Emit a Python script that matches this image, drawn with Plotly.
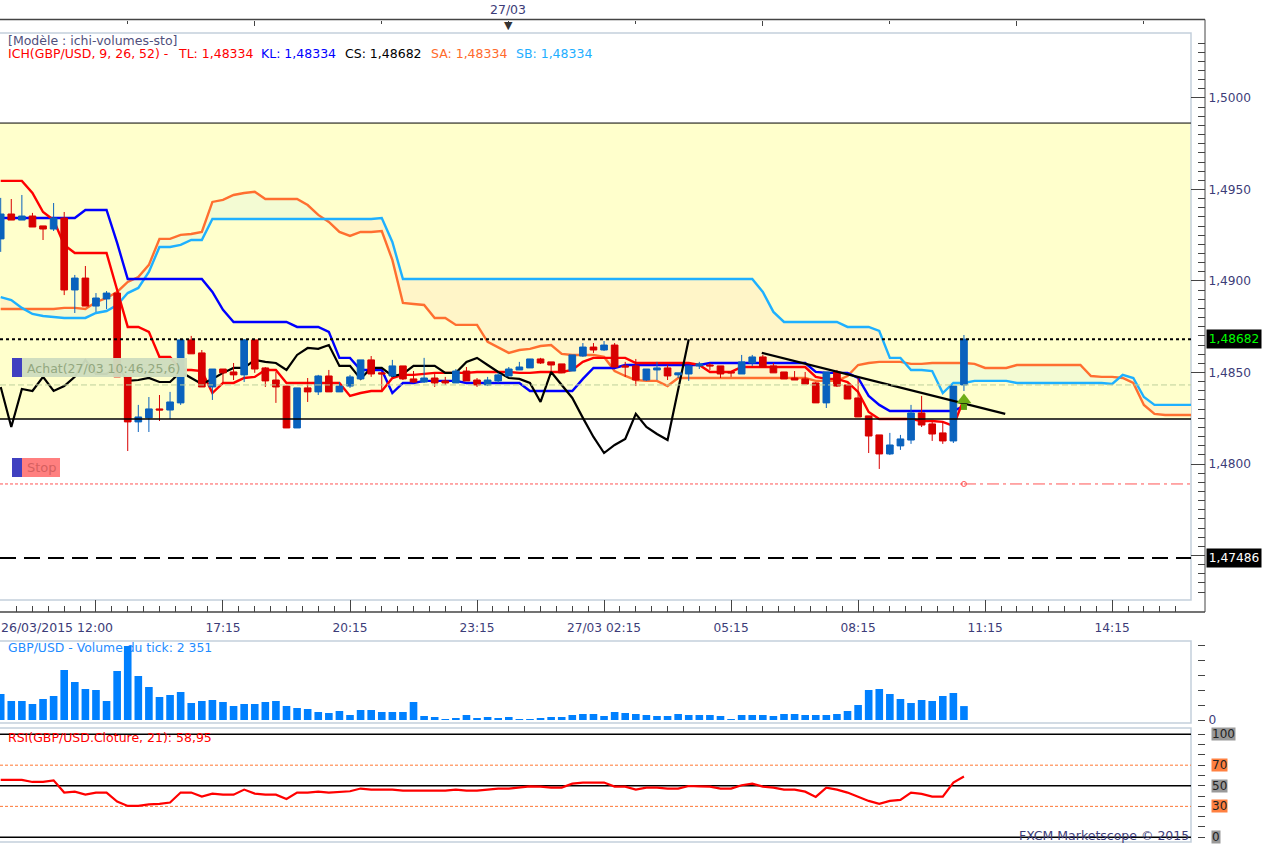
import plotly.graph_objects as go

W, H = 1263, 844

# GBP/USD 15 min bars
opens = [1.49230, 1.49366, 1.49333, 1.49355, 1.49301, 1.49284, 1.49344, 1.48951, 1.49016, 1.48863,
         1.48902, 1.48934, 1.48476, 1.48230, 1.48252, 1.48301, 1.48295, 1.48334, 1.48678, 1.48607,
         1.48421, 1.48519, 1.48503, 1.48487, 1.48678, 1.48525, 1.48459, 1.48426, 1.48197, 1.48416,
         1.48394, 1.48481, 1.48394, 1.48426, 1.48465, 1.48569, 1.48498, 1.48481, 1.48536, 1.48465,
         1.48448, 1.48470, 1.48454, 1.48443, 1.48508, 1.48459, 1.48432, 1.48454, 1.48481, 1.48514,
         1.48525, 1.48574, 1.48558, 1.48547, 1.48508, 1.48590, 1.48639, 1.48623, 1.48650, 1.48536,
         1.48536, 1.48459, 1.48514, 1.48525, 1.48487, 1.48492, 1.48536, 1.48541, 1.48536, 1.48503,
         1.48492, 1.48552, 1.48585, 1.48536, 1.48503, 1.48470, 1.48465, 1.48443, 1.48334, 1.48503,
         1.48432, 1.48361, 1.48263, 1.48159, 1.48055, 1.48099, 1.48131, 1.48279, 1.48219, 1.48170,
         1.48126, 1.48432]
highs = [1.49454, 1.49448, 1.49470, 1.49372, 1.49301, 1.49426, 1.49377, 1.49033, 1.49082, 1.48934,
         1.48945, 1.48934, 1.48476, 1.48323, 1.48366, 1.48377, 1.48394, 1.48678, 1.48700, 1.48623,
         1.48519, 1.48519, 1.48552, 1.48683, 1.48678, 1.48530, 1.48503, 1.48426, 1.48416, 1.48470,
         1.48487, 1.48514, 1.48448, 1.48487, 1.48569, 1.48590, 1.48503, 1.48569, 1.48536, 1.48508,
         1.48580, 1.48492, 1.48476, 1.48519, 1.48530, 1.48470, 1.48476, 1.48498, 1.48530, 1.48558,
         1.48574, 1.48580, 1.48558, 1.48547, 1.48596, 1.48661, 1.48661, 1.48672, 1.48661, 1.48558,
         1.48574, 1.48519, 1.48558, 1.48541, 1.48498, 1.48536, 1.48558, 1.48552, 1.48536, 1.48503,
         1.48596, 1.48596, 1.48596, 1.48552, 1.48503, 1.48508, 1.48503, 1.48448, 1.48503, 1.48514,
         1.48432, 1.48476, 1.48263, 1.48159, 1.48170, 1.48159, 1.48323, 1.48372, 1.48230, 1.48230,
         1.48426, 1.48705]
lows = [1.49159, 1.49333, 1.49333, 1.49295, 1.49224, 1.49273, 1.48923, 1.48825, 1.48863, 1.48831,
        1.48847, 1.48476, 1.48071, 1.48175, 1.48175, 1.48235, 1.48246, 1.48323, 1.48602, 1.48421,
        1.48350, 1.48443, 1.48459, 1.48448, 1.48498, 1.48421, 1.48334, 1.48197, 1.48197, 1.48339,
        1.48377, 1.48394, 1.48394, 1.48416, 1.48459, 1.48476, 1.48405, 1.48476, 1.48459, 1.48443,
        1.48443, 1.48421, 1.48432, 1.48443, 1.48454, 1.48421, 1.48426, 1.48443, 1.48481, 1.48514,
        1.48525, 1.48547, 1.48508, 1.48498, 1.48508, 1.48585, 1.48607, 1.48618, 1.48530, 1.48476,
        1.48426, 1.48454, 1.48459, 1.48459, 1.48470, 1.48454, 1.48519, 1.48514, 1.48470, 1.48476,
        1.48492, 1.48536, 1.48530, 1.48498, 1.48465, 1.48459, 1.48437, 1.48334, 1.48306, 1.48421,
        1.48355, 1.48257, 1.48060, 1.47973, 1.48049, 1.48077, 1.48110, 1.48202, 1.48126, 1.48110,
        1.48115, 1.48399]
closes = [1.49366, 1.49333, 1.49355, 1.49295, 1.49284, 1.49344, 1.48951, 1.49016, 1.48863, 1.48907,
          1.48934, 1.48476, 1.48230, 1.48257, 1.48301, 1.48295, 1.48339, 1.48678, 1.48602, 1.48421,
          1.48519, 1.48498, 1.48487, 1.48678, 1.48519, 1.48454, 1.48421, 1.48197, 1.48416, 1.48394,
          1.48481, 1.48394, 1.48426, 1.48476, 1.48569, 1.48492, 1.48492, 1.48536, 1.48465, 1.48448,
          1.48470, 1.48443, 1.48443, 1.48508, 1.48454, 1.48432, 1.48459, 1.48487, 1.48519, 1.48530,
          1.48574, 1.48552, 1.48541, 1.48498, 1.48596, 1.48639, 1.48623, 1.48650, 1.48530, 1.48530,
          1.48459, 1.48519, 1.48525, 1.48481, 1.48498, 1.48536, 1.48547, 1.48536, 1.48492, 1.48498,
          1.48558, 1.48585, 1.48530, 1.48498, 1.48465, 1.48459, 1.48437, 1.48334, 1.48503, 1.48426,
          1.48355, 1.48257, 1.48153, 1.48055, 1.48104, 1.48137, 1.48279, 1.48213, 1.48164, 1.48126,
          1.48426, 1.48682]

# Ichimoku lines
tenkan = [1.49547, 1.49547, 1.49547, 1.49481, 1.49377, 1.49333, 1.49197, 1.49153, 1.49153, 1.49153,
          1.49153, 1.48951, 1.48749, 1.48749, 1.48722, 1.48585, 1.48585, 1.48514, 1.48514, 1.48508,
          1.48388, 1.48443, 1.48443, 1.48470, 1.48476, 1.48514, 1.48514, 1.48443, 1.48443, 1.48443,
          1.48443, 1.48443, 1.48443, 1.48372, 1.48388, 1.48399, 1.48399, 1.48470, 1.48487, 1.48487,
          1.48492, 1.48498, 1.48498, 1.48498, 1.48498, 1.48503, 1.48503, 1.48503, 1.48503, 1.48498,
          1.48498, 1.48503, 1.48503, 1.48503, 1.48514, 1.48558, 1.48580, 1.48580, 1.48580, 1.48580,
          1.48552, 1.48552, 1.48552, 1.48552, 1.48552, 1.48552, 1.48541, 1.48503, 1.48503, 1.48503,
          1.48530, 1.48530, 1.48530, 1.48530, 1.48530, 1.48530, 1.48530, 1.48476, 1.48465, 1.48465,
          1.48448, 1.48394, 1.48284, 1.48246, 1.48246, 1.48246, 1.48246, 1.48235, 1.48235, 1.48230,
          1.48208, 1.48355]
kijun = [1.49344, 1.49344, 1.49344, 1.49344, 1.49344, 1.49344, 1.49344, 1.49344, 1.49388, 1.49388,
         1.49388, 1.49208, 1.49011, 1.49011, 1.49011, 1.49011, 1.49011, 1.49011, 1.49011, 1.49011,
         1.48940, 1.48842, 1.48776, 1.48776, 1.48776, 1.48776, 1.48776, 1.48776, 1.48749, 1.48749,
         1.48749, 1.48722, 1.48580, 1.48580, 1.48514, 1.48514, 1.48514, 1.48388, 1.48443, 1.48443,
         1.48454, 1.48454, 1.48454, 1.48454, 1.48443, 1.48443, 1.48443, 1.48443, 1.48443, 1.48443,
         1.48399, 1.48399, 1.48399, 1.48399, 1.48399, 1.48465, 1.48525, 1.48525, 1.48525, 1.48541,
         1.48541, 1.48541, 1.48541, 1.48541, 1.48541, 1.48541, 1.48541, 1.48552, 1.48552, 1.48552,
         1.48552, 1.48552, 1.48552, 1.48552, 1.48552, 1.48552, 1.48552, 1.48503, 1.48498, 1.48498,
         1.48498, 1.48470, 1.48372, 1.48323, 1.48290, 1.48290, 1.48290, 1.48290, 1.48290, 1.48290,
         1.48290, 1.48317]
chikou = [1.48421, 1.48202, 1.48410, 1.48399, 1.48476, 1.48399, 1.48426, 1.48476, 1.48569, 1.48492,
          1.48492, 1.48536, 1.48454, 1.48459, 1.48470, 1.48448, 1.48448, 1.48503, 1.48470, 1.48437,
          1.48465, 1.48498, 1.48525, 1.48525, 1.48569, 1.48558, 1.48552, 1.48514, 1.48596, 1.48634,
          1.48629, 1.48650, 1.48536, 1.48536, 1.48465, 1.48525, 1.48525, 1.48481, 1.48492, 1.48536,
          1.48536, 1.48536, 1.48498, 1.48498, 1.48558, 1.48580, 1.48541, 1.48503, 1.48470, 1.48465,
          1.48443, 1.48339, 1.48503, 1.48432, 1.48361, 1.48252, 1.48148, 1.48060, 1.48104, 1.48137,
          1.48274, 1.48202, 1.48164, 1.48131, 1.48410, 1.48682]
senkou_a = [1.48847, 1.48847, 1.48847, 1.48847, 1.48847, 1.48847, 1.48853, 1.48853, 1.48847, 1.48885,
            1.48907, 1.48940, 1.48995, 1.49022, 1.49088, 1.49230, 1.49230, 1.49252, 1.49257, 1.49268,
            1.49432, 1.49443, 1.49470, 1.49481, 1.49487, 1.49448, 1.49448, 1.49448, 1.49448, 1.49415,
            1.49361, 1.49323, 1.49268, 1.49246, 1.49268, 1.49268, 1.49273, 1.49115, 1.48880, 1.48874,
            1.48869, 1.48798, 1.48798, 1.48760, 1.48760, 1.48760, 1.48667, 1.48639, 1.48607, 1.48623,
            1.48629, 1.48645, 1.48650, 1.48602, 1.48596, 1.48596, 1.48596, 1.48585, 1.48508, 1.48481,
            1.48459, 1.48454, 1.48454, 1.48426, 1.48470, 1.48470, 1.48470, 1.48470, 1.48470, 1.48470,
            1.48470, 1.48470, 1.48470, 1.48470, 1.48470, 1.48470, 1.48470, 1.48454, 1.48454, 1.48454,
            1.48481, 1.48541, 1.48552, 1.48558, 1.48558, 1.48558, 1.48547, 1.48547, 1.48552, 1.48552,
            1.48552, 1.48552, 1.48547, 1.48525, 1.48525, 1.48525, 1.48541, 1.48541, 1.48541, 1.48541,
            1.48541, 1.48541, 1.48541, 1.48481, 1.48476, 1.48476, 1.48470, 1.48443, 1.48323, 1.48274,
            1.48268, 1.48268, 1.48268, 1.48268]
senkou_b = [1.48912, 1.48896, 1.48853, 1.48820, 1.48809, 1.48803, 1.48798, 1.48798, 1.48798, 1.48825,
            1.48836, 1.48869, 1.48934, 1.48962, 1.49049, 1.49186, 1.49186, 1.49197, 1.49224, 1.49224,
            1.49339, 1.49339, 1.49339, 1.49339, 1.49339, 1.49339, 1.49339, 1.49339, 1.49339, 1.49339,
            1.49339, 1.49339, 1.49339, 1.49339, 1.49339, 1.49339, 1.49344, 1.49213, 1.49011, 1.49011,
            1.49011, 1.49011, 1.49011, 1.49011, 1.49011, 1.49011, 1.49011, 1.49011, 1.49011, 1.49011,
            1.49011, 1.49011, 1.49011, 1.49011, 1.49011, 1.49011, 1.49011, 1.49011, 1.49011, 1.49011,
            1.49011, 1.49011, 1.49011, 1.49011, 1.49011, 1.49011, 1.49011, 1.49011, 1.49011, 1.49011,
            1.49011, 1.49011, 1.48940, 1.48831, 1.48776, 1.48776, 1.48776, 1.48776, 1.48776, 1.48776,
            1.48749, 1.48749, 1.48749, 1.48727, 1.48580, 1.48580, 1.48514, 1.48514, 1.48508, 1.48388,
            1.48443, 1.48443, 1.48454, 1.48454, 1.48454, 1.48454, 1.48443, 1.48443, 1.48443, 1.48443,
            1.48443, 1.48443, 1.48443, 1.48443, 1.48443, 1.48437, 1.48487, 1.48470, 1.48366, 1.48323,
            1.48323, 1.48323, 1.48323, 1.48323]

trend_x = [71.9, 94.9]
trend_y = [1.48607, 1.48274]

# horizontal price levels
zone_top = 1.49863
zone_bottom = 1.48246
level_close = 1.48682
level_dashed = 1.47486
level_entry = 1.48432
level_stop = 1.47891

# buy arrow: head and shaft prices
arrow_head = 1.48350
arrow_shaft = 1.48312

volume = [4391, 3209, 3209, 2702, 3547, 4054, 8445, 6418, 5236, 5067,
          3209, 8276, 12499, 7432, 5574, 3885, 4222, 4729, 2871, 3209,
          3378, 3040, 2365, 2702, 2702, 3040, 3209, 2365, 2027, 1858,
          1351, 1182, 1520, 845, 1689, 1689, 1351, 1351, 1351, 3040,
          676, 507, 113, 338, 845, 338, 507, 338, 507, 169,
          113, 338, 507, 507, 845, 1013, 1013, 676, 1351, 1182,
          1013, 845, 676, 676, 1013, 845, 845, 845, 676, 113,
          845, 845, 845, 676, 1013, 1013, 845, 845, 845, 1013,
          1520, 2534, 5067, 5236, 4391, 3547, 2871, 3378, 3209, 4054,
          4560, 2351]

rsi = [55.7, 55.7, 55.7, 53.7, 53.7, 55.3, 43.4, 44.3, 41.4, 43.4,
       43.4, 34.6, 30.4, 30.4, 32.0, 32.4, 33.7, 43.4, 43.4, 39.5,
       42.4, 41.4, 41.4, 46.3, 42.4, 41.4, 41.4, 37.2, 43.4, 43.4,
       44.3, 43.4, 44.3, 44.7, 47.3, 46.3, 46.3, 46.3, 45.3, 45.3,
       45.3, 45.3, 45.3, 46.3, 45.3, 45.3, 46.3, 47.3, 47.3, 48.2,
       49.5, 49.2, 48.2, 48.2, 52.1, 53.1, 53.1, 53.1, 49.2, 49.2,
       46.3, 48.2, 48.2, 47.3, 47.3, 49.8, 49.5, 49.2, 47.3, 47.3,
       50.5, 52.1, 49.2, 48.2, 46.3, 46.3, 44.3, 39.2, 48.2, 46.3,
       43.4, 39.5, 35.3, 32.4, 35.3, 36.3, 43.4, 42.1, 39.5, 39.5,
       53.1, 58.95]
rsi_levels = [100, 70, 50, 30, 0]

time_ticks = [9, 21, 33, 45, 57, 69, 81, 93, 105]
time_labels = ['', '17:15', '20:15', '23:15', '27/03 02:15', '05:15', '08:15', '11:15', '14:15']
day_ticks = [0, 24, 48, 72, 96]
price_ticks = [1.475, 1.48, 1.485, 1.49, 1.495, 1.5]
price_labels = ['', '1,4800', '1,4850', '1,4900', '1,4950', '1,5000']

legend_labels = ['ICH(GBP/USD, 9, 26, 52) -', 'TL: 1,48334', 'KL: 1,48334', 'CS: 1,48682', 'SA: 1,48334', 'SB: 1,48334']
legend_colors = ['#ff0000', '#ff0000', '#0000ff', '#000000', '#ff6a2b', '#1eaeff']
legend_left = [8, 178, 261, 345, 431, 516]

bars = list(range(len(closes)))
cloud_bars = list(range(len(senkou_a)))

FONT = 'DejaVu Sans'
NAVY = '#3c3c78'
FRAME = '#c3cfdc'
AXIS = '#444444'


def xp(px):
    return px / W


def yp(px):
    return 1 - px / H


def box(x0, y0, x1, y1, color):
    return dict(type='rect', xref='paper', yref='paper', x0=xp(x0), x1=xp(x1), y0=yp(y0), y1=yp(y1),
                fillcolor=color, line_width=0, layer='above')


def level(y, color, width, dash, x0=0, x1=1):
    return dict(type='line', xref='x domain', yref='y', x0=x0, x1=x1, y0=y, y1=y,
                line=dict(color=color, width=width, dash=dash), layer='above')


def frame(y0, y1):
    return dict(type='rect', xref='paper', yref='paper', x0=-0.01, x1=xp(1191), y0=yp(y0), y1=yp(y1),
                line=dict(color=FRAME, width=1.5), layer='below')


def note(text, x, y, color, anchor='left', size=12.5):
    return dict(text=text, xref='paper', yref='paper', x=xp(x - 2 if anchor == 'left' else x), y=yp(y),
                xanchor=anchor, yanchor='middle', showarrow=False,
                font=dict(family=FONT, size=size, color=color))


fig = go.Figure()

# cloud fill, one polygon per run where the same line stays on top
run_start = 0
for k in range(1, len(cloud_bars) + 1):
    if k == len(cloud_bars) or (senkou_a[k] >= senkou_b[k]) != (senkou_a[run_start] >= senkou_b[run_start]):
        end = min(k + 1, len(cloud_bars))
        fig.add_trace(go.Scatter(
            x=cloud_bars[run_start:end] + cloud_bars[run_start:end][::-1],
            y=senkou_a[run_start:end] + senkou_b[run_start:end][::-1],
            fill='toself', mode='none',
            fillcolor='#f3fbd3' if senkou_a[run_start] >= senkou_b[run_start] else '#fff5c8',
            hoverinfo='skip', zorder=0))
        run_start = k

fig.add_trace(go.Scatter(x=cloud_bars, y=senkou_a, mode='lines', line=dict(color='#ff6f30', width=2.4), zorder=1))
fig.add_trace(go.Scatter(x=cloud_bars, y=senkou_b, mode='lines', line=dict(color='#1eb0ff', width=2.4), zorder=1))
fig.add_trace(go.Scatter(x=bars, y=kijun, mode='lines', line=dict(color='#0000ff', width=2.4), zorder=1))
fig.add_trace(go.Scatter(x=bars, y=tenkan, mode='lines', line=dict(color='#ff0000', width=2.4), zorder=1))
fig.add_trace(go.Scatter(x=bars[:len(chikou)], y=chikou, mode='lines', line=dict(color='#000000', width=2.2), zorder=1))

fig.add_trace(go.Candlestick(
    x=bars, open=opens, high=highs, low=lows, close=closes,
    increasing=dict(line=dict(color='#0a62bd', width=1), fillcolor='#0a62bd'),
    decreasing=dict(line=dict(color='#d80000', width=1), fillcolor='#d80000'),
    zorder=2))

fig.add_trace(go.Scatter(x=trend_x, y=trend_y, mode='lines', line=dict(color='#000000', width=2.2), zorder=3))
fig.add_trace(go.Scatter(x=[bars[-1]], y=[arrow_shaft], mode='markers', zorder=4,
                         marker=dict(symbol='square', size=6, color='#5c9e10')))
fig.add_trace(go.Scatter(x=[bars[-1]], y=[arrow_head], mode='markers', zorder=4,
                         marker=dict(symbol='triangle-up', size=13, color='#6fae16')))
fig.add_trace(go.Scatter(x=[bars[-1]], y=[level_stop], mode='markers', zorder=4,
                         marker=dict(symbol='circle-open', size=5, color='#ff5555')))

# keeps the strip axis above the chart on the page
fig.add_trace(go.Scatter(x=[day_ticks[2]], y=[1.5], xaxis='x4', yaxis='y', mode='none'))

# volume panel
fig.add_trace(go.Scatter(x=[0.7], y=[11992], xaxis='x2', yaxis='y2', mode='text', zorder=0,
                         text=['GBP/USD - Volume du tick: 2 351'], textposition='middle right',
                         textfont=dict(family=FONT, size=12.4, color='#1e8cff')))
fig.add_trace(go.Bar(x=bars, y=volume, xaxis='x2', yaxis='y2', width=0.72, marker_color='#0080ff',
                     marker_line_width=0, zorder=1))

# RSI panel
fig.add_trace(go.Scatter(x=bars, y=rsi, xaxis='x3', yaxis='y3', mode='lines',
                         line=dict(color='#ff0000', width=2.2), zorder=2))

x_range = [-0.066, 112.45]
x_common = dict(domain=[0, xp(1191)], range=x_range, showgrid=False, zeroline=False, fixedrange=True)
y_common = dict(anchor='free', position=xp(1205), side='right', showgrid=False, zeroline=False,
                showline=True, linecolor=AXIS, linewidth=1, ticks='inside', tickcolor=AXIS,
                tickfont=dict(family=FONT, size=12.2, color=NAVY), fixedrange=True)

shapes = [
    dict(type='rect', xref='x domain', yref='y', x0=0, x1=1, y0=zone_bottom, y1=zone_top,
         fillcolor='#ffffcc', line_width=0, layer='below'),
    frame(33, 600), frame(641, 723), frame(728, 842),
    level(zone_top, '#000000', 1, 'solid'),
    level(zone_bottom, '#000000', 1.5, 'solid'),
    level(level_close, '#000000', 2, '3px,3px'),
    level(level_dashed, '#000000', 2, '16px,8px'),
    level(level_entry, '#bdd09c', 1, '6px,3px'),
    level(level_stop, '#ff5555', 1, '3px,2px', x1=964 / 1191),
    level(level_stop, '#ff5555', 1, '12px,4px,3px,4px', x0=964 / 1191),
    # scale lines around the chart
    dict(type='line', xref='paper', yref='paper', x0=xp(1205), x1=xp(1205), y0=yp(19.5), y1=yp(612),
         line=dict(color=AXIS, width=1)),
    dict(type='line', xref='paper', yref='paper', x0=0, x1=xp(1205), y0=yp(19.5), y1=yp(19.5),
         line=dict(color=AXIS, width=1.5)),
    dict(type='line', xref='paper', yref='paper', x0=0, x1=xp(1205), y0=yp(612), y1=yp(612),
         line=dict(color=AXIS, width=1.5)),
    # trade labels
    box(12, 358, 187, 377, 'rgba(206,221,190,0.96)'),
    box(12, 358, 22, 377, '#4040c0'),
    box(12, 458, 60, 477, '#ff7f7f'),
    box(12, 458, 22, 477, '#4040c0'),
]
for value in rsi_levels:
    is_band = value in (70, 30)
    shapes.append(dict(type='line', xref='x3 domain', yref='y3', x0=0, x1=1, y0=value, y1=value, layer='below',
                       line=dict(color='#ff7733' if is_band else '#000000', width=1 if is_band else 1.5,
                                 dash='3px,2px' if is_band else 'solid')))

annotations = [
    note('[Modèle : ichi-volumes-sto]', 8, 40, '#50507c'),
    note('27/03', 508, 9, NAVY, anchor='center'),
    note('▼', 508, 25, '#333333', anchor='center', size=11),
    note('26/03/2015 12:00', 57, 627, NAVY, anchor='center'),
    note('Achat(27/03 10:46,25,6)', 27, 368, '#93a87f'),
    note('Stop', 27, 468, '#d65f5f', size=13),
    note('RSI(GBP/USD.Cloture, 21): 58,95', 8, 737, '#ff0000'),
    note('FXCM Marketscope © 2015', 1191, 835, NAVY, anchor='right'),
    dict(text='1,48682', xref='paper', yref='y', x=xp(1206), y=level_close, xanchor='left', yanchor='middle',
         showarrow=False, bgcolor='#000000', width=54, height=18, borderpad=0,
         font=dict(family=FONT, size=12.2, color='#00ff00')),
    dict(text='1,47486', xref='paper', yref='y', x=xp(1206), y=level_dashed, xanchor='left', yanchor='middle',
         showarrow=False, bgcolor='#000000', width=54, height=18, borderpad=0,
         font=dict(family=FONT, size=12.2, color='#ffffff')),
]
for label, color, left in zip(legend_labels, legend_colors, legend_left):
    annotations.append(note(label, left, 54, color))
for value in rsi_levels:
    annotations.append(dict(text=str(value), xref='paper', yref='y3', x=xp(1211), y=value, xanchor='left',
                            yanchor='middle', showarrow=False, borderpad=0, height=12,
                            bgcolor='#ff8040' if value in (70, 30) else '#999999',
                            font=dict(family=FONT, size=12, color='#222222')))

fig.update_layout(
    width=W, height=H, margin=dict(l=0, r=0, t=0, b=0, autoexpand=False),
    paper_bgcolor='#ffffff', plot_bgcolor='rgba(0,0,0,0)',
    showlegend=False, separators=', ', hovermode=False, boxgap=0.1,
    shapes=shapes, annotations=annotations,
    xaxis=dict(**x_common, anchor='free', position=yp(612), rangeslider=dict(visible=False),
               tickmode='array', tickvals=time_ticks, ticktext=time_labels,
               ticks='inside', ticklen=12, tickcolor=AXIS, ticklabelstandoff=7,
               tickfont=dict(family=FONT, size=12.2, color=NAVY),
               minor=dict(ticks='inside', ticklen=6, tickcolor=AXIS, tickmode='linear', tick0=0, dtick=1.5)),
    xaxis2=dict(**x_common, anchor='y2', showticklabels=False, ticks=''),
    xaxis3=dict(**x_common, anchor='y3', showticklabels=False, ticks=''),
    xaxis4=dict(**x_common, overlaying='x', anchor='free', position=yp(19.5), side='top',
                tickmode='array', tickvals=day_ticks, ticktext=[''] * len(day_ticks),
                ticks='inside', ticklen=5, tickcolor=AXIS,
                minor=dict(ticks='inside', ticklen=3, tickcolor=AXIS, tickmode='linear', tick0=0, dtick=12)),
    yaxis=dict(**y_common, domain=[yp(600), yp(33)], range=[1.47257, 1.50355], tickmode='array',
               tickvals=price_ticks, ticktext=price_labels, ticklen=14,
               minor=dict(ticks='inside', ticklen=7, tickcolor=AXIS, tickmode='linear', tick0=1.5, dtick=0.0005)),
    yaxis2=dict(**y_common, domain=[yp(723), yp(641)], range=[-507, 13343], tickmode='array',
                tickvals=[0, 2500, 5000, 7500, 10000, 12500], ticktext=['0', '', '', '', '', ''], ticklen=7),
    yaxis3=dict(**y_common, domain=[yp(842), yp(728)], range=[-4.6, 106.1], tick0=0, dtick=10,
                showticklabels=False, ticklen=7),
)

fig.write_html("out.html", config={'displayModeBar': False},
               post_script="document.body.style.margin = '0';")
